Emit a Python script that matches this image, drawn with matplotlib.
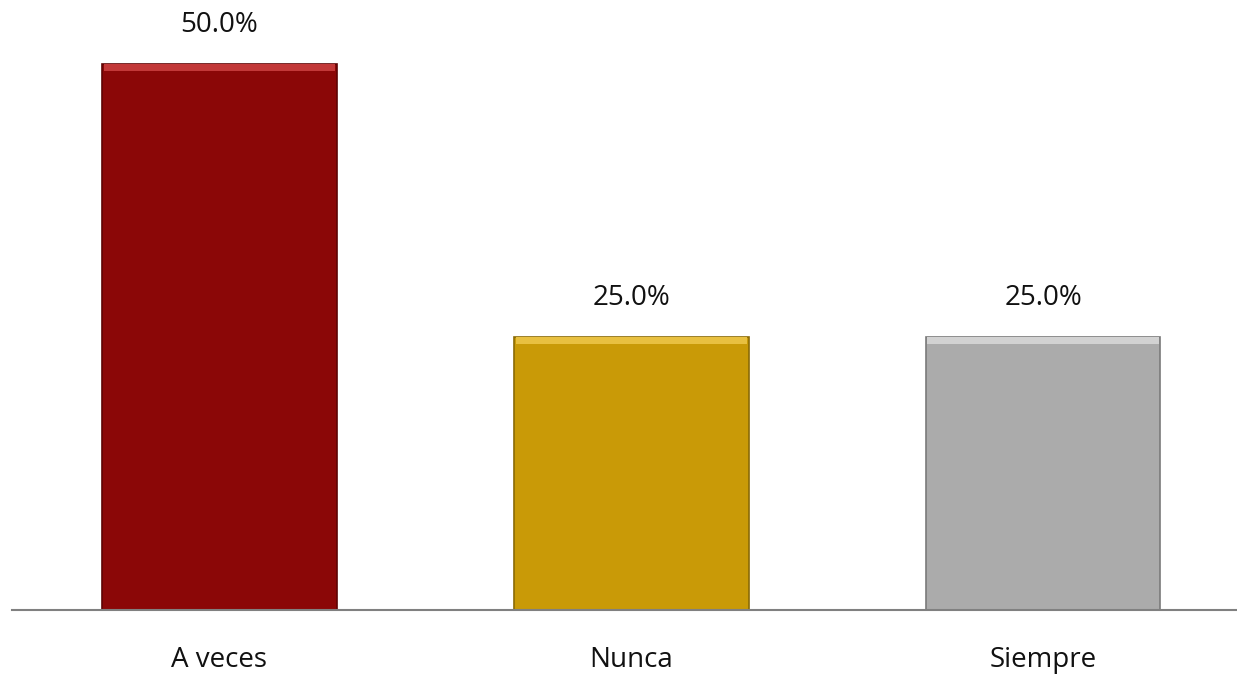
import matplotlib.pyplot as plt
import numpy as np

categories = ["A veces", "Nunca", "Siempre"]
values = [50.0, 25.0, 25.0]
labels = ["50.0%", "25.0%", "25.0%"]
colors = ["#8B0707", "#C99A07", "#ABABAB"]
tops = ["#C23838", "#E8C040", "#D2D2D2"]
edges = ["#5E0404", "#8A6A05", "#7A7A7A"]

plt.rcParams['font.family'] = ['Open Sans', 'DejaVu Sans']

fig = plt.figure(figsize=(12.37, 6.8), dpi=100)
ax = fig.add_axes([0, 0, 1, 1])
x = np.arange(len(categories))
w = 0.57

ax.bar(x, values, width=w, color=colors, edgecolor=edges, linewidth=1.2, zorder=2)
# bevel highlight on the top edge
bev = 0.6
ax.bar(x, [bev] * 3, bottom=[v - bev for v in values], width=w * 0.985,
       color=tops, linewidth=0, zorder=3)

for xi, v, t in zip(x, values, labels):
    ax.text(xi, v + 3.57, t, ha='center', va='center', fontsize=20, color='#111111')
for xi, c in zip(x, categories):
    ax.text(xi, -4.6, c, ha='center', va='center', fontsize=20, color='#111111')

ax.axhline(0, xmin=12 / 1237, xmax=1, color='#808080', linewidth=1.5, zorder=4)

ax.set_xlim(-0.533, 2.471)
ax.set_ylim(-6.41, 55.86)
ax.axis('off')

fig.savefig('out.png', dpi=100)
